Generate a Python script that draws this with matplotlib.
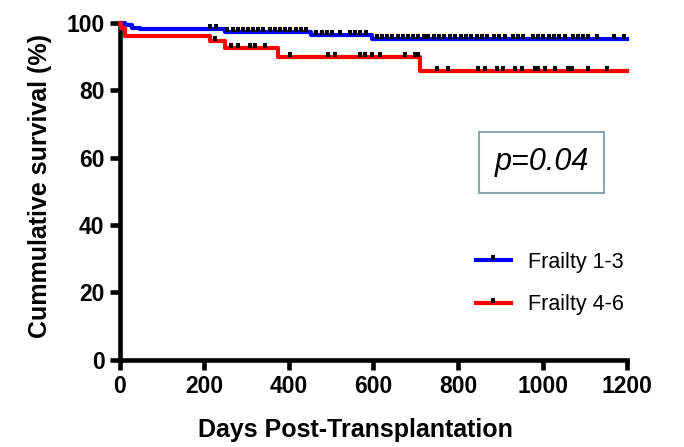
import matplotlib
matplotlib.use("Agg")
import matplotlib.pyplot as plt
import numpy as np
from matplotlib.lines import Line2D
from matplotlib.path import Path

plt.rcParams['font.family'] = ['Liberation Sans', 'DejaVu Sans']

# step curves (day, survival %)
blue_t = [0, 12, 28, 47, 248, 452, 596, 1200]
blue_s = [100, 99.3, 98.6, 98.1, 97.4, 96.5, 95.3, 95.3]
red_t = [0, 4, 12, 213, 248, 374, 710, 1200]
red_s = [100, 98.4, 96.2, 94.5, 92.5, 90.0, 85.8, 85.8]

# censored observations (days)
blue_cens = [213, 227, 253, 267, 279, 291, 303, 315, 327, 338, 355, 367, 379,
             391, 402, 417, 428, 440, 464, 478, 490, 502, 521, 544, 556, 568,
             582, 608, 620, 632, 644, 658, 670, 682, 693, 705, 720, 729, 743,
             755, 767, 781, 793, 807, 819, 831, 845, 857, 869, 885, 897, 911,
             930, 942, 954, 977, 989, 1001, 1015, 1027, 1039, 1053, 1072, 1084,
             1096, 1108, 1129, 1169, 1193]
red_cens = [225, 264, 280, 308, 320, 343, 402, 493, 509, 568, 580, 596, 615,
            675, 698, 705, 750, 776, 847, 864, 892, 907, 935, 951, 982, 989,
            1006, 1030, 1060, 1070, 1108, 1153]

labels = ["Frailty 1-3", "Frailty 4-6"]
colors = ["#0000ff", "#ff0000"]

# tick mark sitting on top of the line
cens_marker = Path([(-1.2, 0.2), (1.2, 0.2), (1.2, 3), (-1.2, 3), (-1.2, 0.2)],
                   [Path.MOVETO, Path.LINETO, Path.LINETO, Path.LINETO, Path.CLOSEPOLY])


def step_value(t, s, x):
    idx = np.searchsorted(t, x, side='right') - 1
    return np.array(s)[idx]


fig = plt.figure(figsize=(6.84, 4.47), dpi=100)
ax = fig.add_axes([0.175, 0.195, 0.742, 0.754])

for t, s, c, cens in [(blue_t, blue_s, colors[0], blue_cens),
                      (red_t, red_s, colors[1], red_cens)]:
    ax.step(t, s, where='post', color=c, lw=3, clip_on=False, zorder=3)
    ax.plot(cens, step_value(t, s, cens), ls='none', marker=cens_marker,
            ms=7.5, color='k', mec='k', mew=0, clip_on=False, zorder=4)

ax.set_xlim(0, 1200)
ax.set_ylim(0, 100)
ax.set_xticks(np.arange(0, 1201, 200))
ax.set_yticks(np.arange(0, 101, 20))
for sp in ['top', 'right']:
    ax.spines[sp].set_visible(False)
for sp in ['left', 'bottom']:
    ax.spines[sp].set_linewidth(3.3)
ax.tick_params(direction='out', length=7, width=3.3, labelsize=16.5, pad=4)
for lab in ax.get_xticklabels() + ax.get_yticklabels():
    lab.set_fontweight('bold')

ax.set_xlabel("Days Post-Transplantation", fontsize=18, fontweight='bold', labelpad=14)
ax.set_ylabel("Cummulative survival (%)", fontsize=18, fontweight='bold', labelpad=10)
ax.xaxis.label.set_x(0.465)
ax.yaxis.label.set_y(0.515)

ax.text(0.832, 0.586, "p=0.04", transform=ax.transAxes, fontsize=22, style='italic',
        ha='center', va='center',
        bbox=dict(boxstyle='square,pad=0.5', fc='white', ec='#8aa6b3', lw=1.5))

handles = [Line2D([], [], color=c, lw=3, marker=cens_marker, ms=7.5,
                  mfc='k', mec='k', mew=0) for c in colors]
ax.legend(handles, labels, loc='center left', bbox_to_anchor=(0.663, 0.226),
          frameon=False, fontsize=15.5, handlelength=1.65, handletextpad=0.8,
          labelspacing=1.0, numpoints=1)

fig.savefig("out.png", dpi=100)
